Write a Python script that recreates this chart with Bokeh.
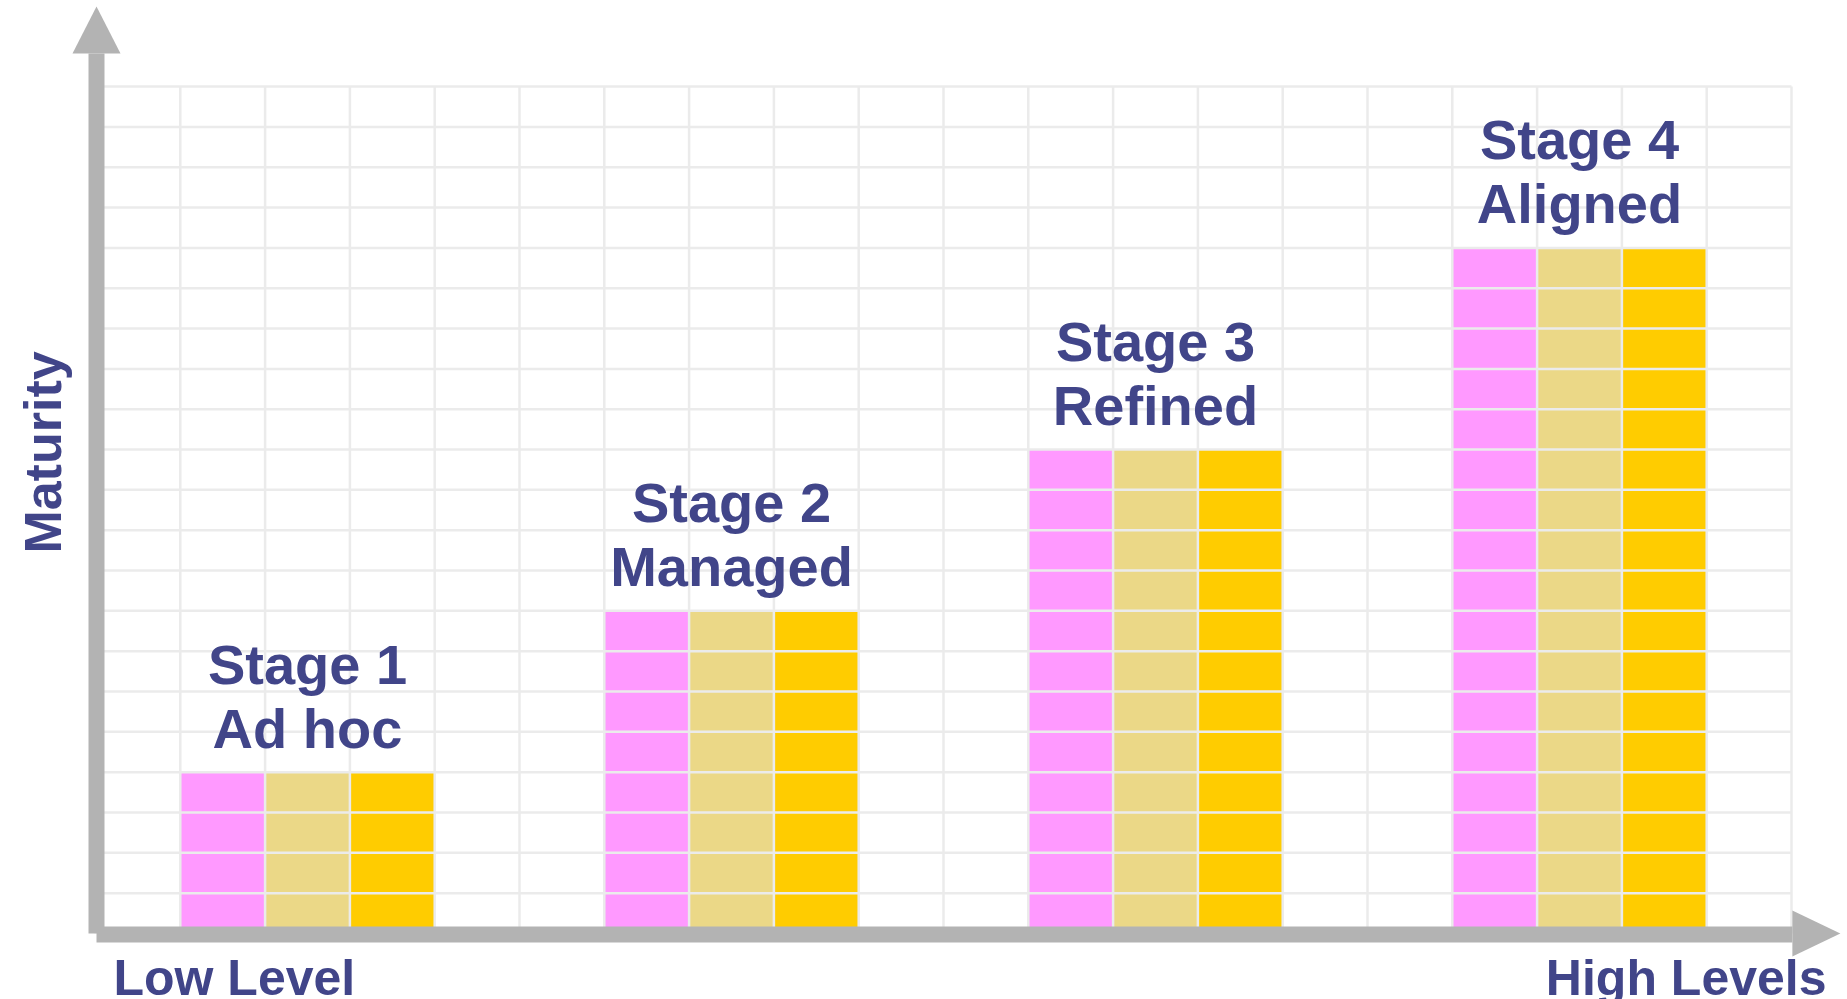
import math
from bokeh.plotting import figure
from bokeh.models import Range1d, Label, ColumnDataSource
from bokeh.core.properties import value
from bokeh.embed import file_html
from bokeh.resources import INLINE

# ---- data ----
stages = ["Stage 1", "Stage 2", "Stage 3", "Stage 4"]
stage_names = ["Ad hoc", "Managed", "Refined", "Aligned"]
maturity = [4, 8, 12, 17]
series = ["Series 1", "Series 2", "Series 3"]
series_colors = ["#FF99FF", "#EBD887", "#FFCC00"]
x_label_low = "Low Level"
x_label_high = "High Levels"
y_label = "Maturity"
grid_cols = 20
grid_rows = 21

TEXT = "#414589"
GRIDC = "#EBEBEB"
AXC = "#B3B3B3"
FONT = "Liberation Sans"

W, H = 1847, 999
PX_X = 84.8   # pixels per x unit
PX_Y = 40.33  # pixels per y unit
x0 = -95 / PX_X
y0 = -(H - 933) / PX_Y

p = figure(width=W, height=H, output_backend="svg", toolbar_location=None,
           x_range=Range1d(x0, x0 + W / PX_X), y_range=Range1d(y0, y0 + H / PX_Y),
           x_axis_location=None, y_axis_location=None, min_border=0,
           outline_line_color=None, background_fill_color="white",
           border_fill_color="white")
p.grid.visible = False

# ---- bars ----
lefts, rights, tops, colors = [], [], [], []
for i, h in enumerate(maturity):
    start = 1 + 5 * i
    for j, c in enumerate(series_colors):
        lefts.append(start + j)
        rights.append(start + j + 1)
        tops.append(h)
        colors.append(c)
p.quad(left=lefts, right=rights, bottom=0, top=tops, fill_color=colors, line_color=None)

# ---- grid (drawn over bars) ----
vx = list(range(grid_cols + 1))
p.segment(x0=vx, y0=[0] * len(vx), x1=vx, y1=[grid_rows] * len(vx),
          line_color=GRIDC, line_width=2.5)
hy = list(range(1, grid_rows + 1))
p.segment(x0=[0] * len(hy), y0=hy, x1=[grid_cols] * len(hy), y1=hy,
          line_color=GRIDC, line_width=2.5)

# ---- axes arrows ----
sx = 8 / PX_X
sy = 8 / PX_Y
vb = grid_rows + 0.82
p.quad(left=[-sx + 1 / PX_X], right=[sx + 1 / PX_X], bottom=[0], top=[vb],
       fill_color=AXC, line_color=None)
p.patch(x=[-23 / PX_X, 25 / PX_X, 1 / PX_X], y=[vb, vb, vb + 47 / PX_Y],
        fill_color=AXC, line_color=None)
hb = grid_cols + 0.01
p.quad(left=[1 / PX_X], right=[hb], bottom=[-sy - 1 / PX_Y], top=[sy - 1 / PX_Y],
       fill_color=AXC, line_color=None)
p.patch(x=[hb, hb, hb + 48 / PX_X], y=[-23 / PX_Y, 23 / PX_Y, 0],
        fill_color=AXC, line_color=None)

# ---- stage labels ----
cx = [1 + 5 * i + 1.5 for i in range(len(stages))]
src = ColumnDataSource(dict(x=cx, y=maturity, s=stages, n=stage_names))
p.text(x="x", y="y", text="s", source=src, y_offset=-108, text_align="center",
       text_baseline="alphabetic", text_color=TEXT, text_font=value(FONT),
       text_font_style="bold", text_font_size="56px")
p.text(x="x", y="y", text="n", source=src, y_offset=-44, text_align="center",
       text_baseline="alphabetic", text_color=TEXT, text_font=value(FONT),
       text_font_style="bold", text_font_size="56px")

# ---- axis labels ----
p.add_layout(Label(x=18 / PX_X, y=-44 / PX_Y, text=x_label_low, text_align="left",
                   text_baseline="alphabetic", text_color=TEXT, text_font=FONT,
                   text_font_style="bold", text_font_size="50px"))
p.add_layout(Label(x=(1826 - 95) / PX_X, y=-44 / PX_Y, text=x_label_high, text_align="right",
                   text_baseline="alphabetic", text_color=TEXT, text_font=FONT,
                   text_font_style="bold", text_font_size="50px"))
p.add_layout(Label(x=-53 / PX_X, y=(933 - 452) / PX_Y, text=y_label, angle=math.pi / 2,
                   text_align="center", text_baseline="alphabetic", text_color=TEXT,
                   text_font=FONT, text_font_style="bold", text_font_size="52px"))

open("out.html", "w").write(file_html(p, INLINE))
